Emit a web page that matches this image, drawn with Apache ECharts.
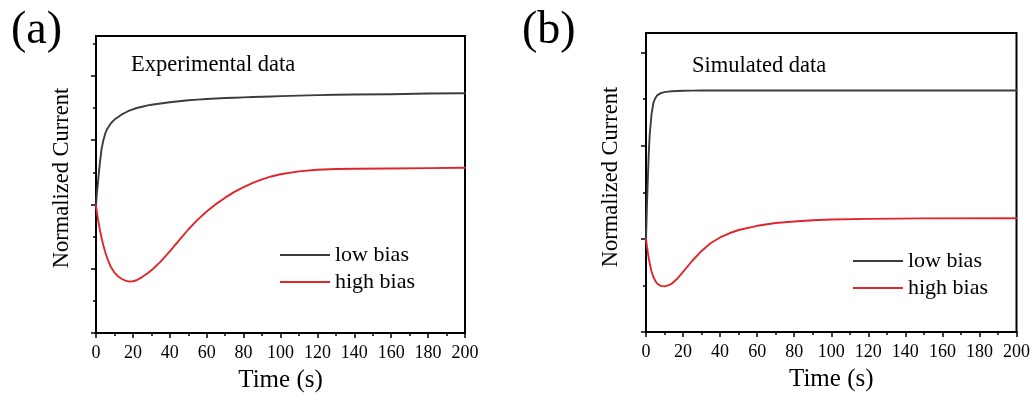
<!DOCTYPE html>
<html>
<head>
<meta charset="utf-8">
<script src="https://cdn.jsdelivr.net/npm/echarts@6/dist/echarts.min.js"></script>
<style>
  html, body { margin: 0; padding: 0; background: #fff; }
  #chart { width: 1033px; height: 400px; }
</style>
</head>
<body>
<div id="chart"></div>
<script>
// ---- Panel (a): experimental transients ----
const expTime = [0, 0.5, 1, 1.5, 2, 3, 4, 5, 6, 8, 10, 12, 14, 16, 18, 20, 22, 25, 28, 31, 35, 40, 45, 50, 55, 60, 65, 70, 75, 80, 85, 90, 95, 100, 110, 120, 130, 140, 160, 180, 200];
const expLow = [1.99, 2.18, 2.32, 2.47, 2.62, 2.86, 3.0, 3.1, 3.17, 3.26, 3.32, 3.36, 3.4, 3.43, 3.46, 3.48, 3.5, 3.52, 3.54, 3.555, 3.57, 3.59, 3.605, 3.62, 3.63, 3.64, 3.648, 3.655, 3.66, 3.665, 3.67, 3.675, 3.68, 3.685, 3.692, 3.7, 3.705, 3.71, 3.715, 3.725, 3.73];
const expHigh = [1.98, 1.88, 1.78, 1.7, 1.62, 1.48, 1.36, 1.26, 1.17, 1.03, 0.94, 0.88, 0.84, 0.815, 0.8, 0.805, 0.82, 0.87, 0.93, 1.0, 1.11, 1.27, 1.44, 1.61, 1.76, 1.89, 2.005, 2.105, 2.195, 2.27, 2.335, 2.39, 2.435, 2.47, 2.515, 2.54, 2.55, 2.555, 2.56, 2.565, 2.57];

// ---- Panel (b): simulated transients ----
const simTime = [0, 0.5, 1, 1.5, 2, 3, 4, 5, 6, 8, 10, 12, 14, 17, 20, 25, 30, 35, 40, 45, 50, 60, 70, 80, 90, 100, 120, 150, 200];
const simLow = [1.0, 1.35, 1.65, 1.92, 2.12, 2.34, 2.46, 2.51, 2.54, 2.565, 2.575, 2.58, 2.585, 2.588, 2.59, 2.591, 2.592, 2.592, 2.592, 2.592, 2.592, 2.592, 2.592, 2.592, 2.592, 2.592, 2.592, 2.592, 2.592];
const simHigh = [1.0, 0.92, 0.85, 0.79, 0.74, 0.65, 0.59, 0.55, 0.52, 0.495, 0.49, 0.5, 0.52, 0.575, 0.645, 0.765, 0.87, 0.955, 1.015, 1.06, 1.095, 1.14, 1.17, 1.187, 1.2, 1.208, 1.215, 1.22, 1.222];

// ---- Axis ticks ----
const xTicks = [0, 20, 40, 60, 80, 100, 120, 140, 160, 180, 200];
const yMajorA = [0, 1, 2, 3, 4];
const yMinorA = [0.5, 1.5, 2.5, 3.5, 4.5];
const yMajorB = [0, 1, 2, 3];
const yMinorB = [0.5, 1.5, 2.5];

const seriesNames = ['low bias', 'high bias'];
const panelLabels = ['(a)', '(b)'];
const panelNotes = ['Experimental data', 'Simulated data'];
const xName = 'Time (s)';
const yName = 'Normalized Current';

const SERIF = "'Liberation Serif', 'Times New Roman', serif";
const LOW_COLOR = '#3c3c3c';
const HIGH_COLOR = '#e0262b';

const zip = (xs, ys) => xs.map((x, i) => [x, ys[i]]);

function xAxisFor(gridIndex) {
  return {
    type: 'value', gridIndex, min: xTicks[0], max: xTicks[xTicks.length - 1], interval: 20,
    name: xName, nameLocation: 'middle', nameGap: 35,
    nameTextStyle: { fontFamily: SERIF, fontSize: 25, color: '#000' },
    axisLine: { show: true, lineStyle: { color: '#000', width: 2 } },
    axisTick: { show: true, inside: false, length: 5, lineStyle: { color: '#000', width: 1.5 } },
    minorTick: { show: true, splitNumber: 2, length: 3, lineStyle: { color: '#000', width: 1.5 } },
    axisLabel: { fontFamily: SERIF, fontSize: 18, color: '#000', margin: 11 },
    splitLine: { show: false }, minorSplitLine: { show: false }
  };
}

function yAxisMajor(gridIndex, max, ticks) {
  return {
    type: 'value', gridIndex, min: 0, max,
    axisLine: { show: true, lineStyle: { color: '#000', width: 2 } },
    axisTick: { show: true, inside: false, length: 5, customValues: ticks, lineStyle: { color: '#000', width: 1.5 } },
    axisLabel: { show: false },
    splitLine: { show: false }
  };
}

function yAxisMinor(gridIndex, max, ticks) {
  return {
    type: 'value', gridIndex, min: 0, max, position: 'left',
    axisLine: { show: false },
    axisTick: { show: true, inside: false, length: 3, customValues: ticks, lineStyle: { color: '#000', width: 1.5 } },
    axisLabel: { show: false },
    splitLine: { show: false }
  };
}

function lineSeries(name, xAxisIndex, yAxisIndex, data, color) {
  return {
    type: 'line', name, xAxisIndex, yAxisIndex, data,
    showSymbol: false, smooth: false,
    lineStyle: { color, width: 1.9, join: 'round', cap: 'round' }, itemStyle: { color },
    animation: false
  };
}

function legendAt(left, top) {
  return {
    orient: 'vertical', left, top, padding: 0, itemGap: 5,
    itemWidth: 50, itemHeight: 2, icon: 'rect',
    data: seriesNames,
    textStyle: { fontFamily: SERIF, fontSize: 22, color: '#000' },
    selectedMode: false
  };
}

function textAt(x, y, text, size) {
  return {
    type: 'text', left: x, top: y,
    style: { text, fontFamily: SERIF, fontSize: size, fill: '#000' }
  };
}

// Vertical axis title, centred on (cx, cy) and read bottom-to-top
function verticalTitle(cx, cy, text, size) {
  return {
    type: 'text', x: cx, y: cy, rotation: Math.PI / 2,
    style: { text, fontFamily: SERIF, fontSize: size, fill: '#000', align: 'center', verticalAlign: 'middle' }
  };
}

const chart = echarts.init(document.getElementById('chart'), null, { renderer: 'canvas' });

chart.setOption({
  backgroundColor: '#fff',
  animation: false,
  grid: [
    { left: 96, top: 36, width: 369, height: 297, show: true, borderColor: '#000', borderWidth: 2, backgroundColor: 'transparent' },
    { left: 646, top: 33, width: 371, height: 299, show: true, borderColor: '#000', borderWidth: 2, backgroundColor: 'transparent' }
  ],
  xAxis: [xAxisFor(0), xAxisFor(1)],
  yAxis: [
    yAxisMajor(0, 4.62, yMajorA), yAxisMinor(0, 4.62, yMinorA),
    yAxisMajor(1, 3.21, yMajorB), yAxisMinor(1, 3.21, yMinorB)
  ],
  legend: [legendAt(280, 244), legendAt(853, 250)],
  graphic: [
    textAt(11, 8, panelLabels[0], 46),
    textAt(522, 8, panelLabels[1], 46),
    textAt(131, 54, panelNotes[0], 22.5),
    textAt(692, 55, panelNotes[1], 22.5),
    verticalTitle(62, 178, yName, 22.5),
    verticalTitle(611, 177, yName, 22.5)
  ],
  series: [
    lineSeries(seriesNames[0], 0, 0, zip(expTime, expLow), LOW_COLOR),
    lineSeries(seriesNames[1], 0, 0, zip(expTime, expHigh), HIGH_COLOR),
    lineSeries(seriesNames[0], 1, 2, zip(simTime, simLow), LOW_COLOR),
    lineSeries(seriesNames[1], 1, 2, zip(simTime, simHigh), HIGH_COLOR)
  ]
});
</script>
</body>
</html>
